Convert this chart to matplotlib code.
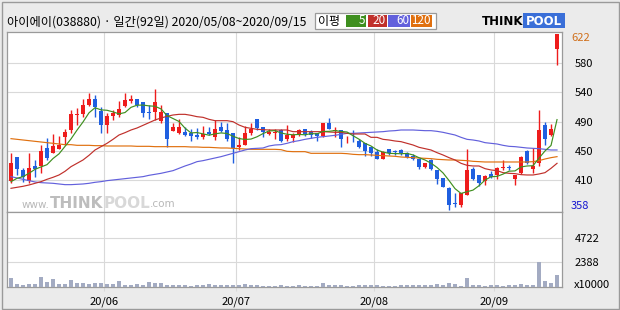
import numpy as np
import pandas as pd
import matplotlib
matplotlib.use('Agg')
import matplotlib.pyplot as plt
from matplotlib.patches import Rectangle

plt.rcParams['font.family'] = ['Noto Sans CJK KR', 'DejaVu Sans']

# chart data
title = '아이에이(038880) · 일간(92일) 2020/05/08~2020/09/15'
dates = pd.bdate_range('2020-05-08', '2020-09-15', freq='C', holidays=['2020-08-17'])

opens = [402, 437, 418, 402, 424, 424, 451, 444, 449, 468, 478, 500, 502, 515, 525, 506,
         486, 499, 501, 514, 522, 524, 520, 505, 505, 492, 504, 477, 474, 475, 474, 471,
         468, 475, 468, 482, 478, 473, 453, 455, 474, 494, 482, 472, 474, 478, 464, 466,
         471, 480, 475, 474, 469, 488, 477, 478, 464, 462, 461, 459, 452, 445, 435, 449,
         446, 448, 443, 439, 434, 423, 433, 418, 406, 391, 368, 366, 381, 420, 410, 401,
         412, 411, 421, 422, 404, 413, 447, 419, 428, 486, 470, 599]
highs = [443, 438, 421, 443, 433, 455, 466, 472, 469, 480, 508, 511, 525, 533, 530, 513,
         503, 508, 522, 534, 530, 525, 520, 515, 539, 515, 504, 489, 494, 483, 480, 481,
         484, 482, 493, 490, 488, 473, 467, 484, 488, 495, 482, 480, 480, 479, 486, 474,
         480, 480, 478, 474, 489, 496, 483, 478, 469, 478, 465, 459, 453, 450, 447, 450,
         448, 450, 445, 442, 435, 429, 434, 418, 406, 393, 383, 384, 450, 423, 410, 410,
         417, 423, 433, 425, 411, 439, 448, 451, 508, 490, 487, 622]
lows = [398, 410, 400, 398, 408, 414, 433, 443, 449, 455, 473, 485, 498, 514, 498, 473,
        473, 493, 498, 513, 518, 513, 498, 495, 493, 488, 452, 477, 472, 469, 461, 465,
        464, 470, 463, 475, 461, 429, 448, 455, 470, 478, 468, 470, 465, 460, 461, 460,
        469, 469, 466, 462, 468, 479, 468, 453, 459, 460, 451, 439, 439, 435, 435, 440,
        441, 441, 436, 433, 420, 421, 418, 397, 392, 358, 363, 363, 380, 403, 394, 396,
        406, 404, 418, 418, 396, 412, 427, 413, 424, 455, 469, 576]
closes = [428, 419, 408, 421, 419, 446, 436, 454, 456, 475, 502, 502, 515, 525, 513, 486,
          499, 503, 510, 523, 525, 515, 504, 504, 520, 505, 465, 482, 482, 470, 469, 468,
          472, 472, 480, 476, 464, 451, 455, 473, 479, 481, 475, 475, 475, 462, 471, 471,
          478, 472, 471, 469, 489, 479, 478, 464, 465, 461, 453, 447, 444, 435, 445, 444,
          445, 443, 437, 434, 423, 428, 419, 405, 393, 366, 367, 383, 418, 405, 399, 409,
          408, 421, 422, 421, 411, 438, 428, 424, 478, 465, 479, 622]
# volume, x10000 shares
volumes = [859, 286, 191, 286, 286, 954, 509, 763, 254, 318, 668, 413, 413, 318, 413, 413,
           254, 286, 572, 223, 223, 286, 223, 477, 350, 413, 223, 223, 191, 191, 127, 223,
           223, 286, 223, 223, 191, 191, 159, 286, 191, 191, 95, 95, 95, 191, 95, 95,
           191, 127, 95, 95, 382, 191, 191, 191, 95, 95, 191, 191, 191, 159, 95, 95,
           95, 191, 191, 191, 191, 191, 191, 286, 191, 382, 254, 95, 859, 191, 191, 95,
           191, 191, 95, 191, 191, 286, 191, 191, 2388, 572, 382, 1145]

# moving averages (they need history before 05/08)
ma5_head = [400.5, 405.5, 408, 413]
ma20 = [390.5, 392, 393.5, 395.5, 398, 400.5, 404, 407, 410.5, 416, 423, 428, 433, 440, 448, 453,
        458, 464, 470.5, 474, 478, 481, 485, 489, 493, 496, 498.5, 500.5, 501.5, 501.5, 500, 498,
        497, 494, 492, 492, 492, 490.5, 485.5, 482, 480.5, 479, 478.5, 478, 478, 478, 478, 475.5,
        475.5, 475.5, 475.5, 475.5, 475.5, 475, 474.5, 474.5, 473, 472, 472, 472, 467, 467, 464, 463,
        461.5, 460.5, 458, 455.5, 452, 450, 448, 444, 440.5, 436.5, 433, 428, 425, 424, 424, 420,
        418, 417, 414, 413, 412.5, 411, 410.5, 410.5, 412, 414, 420.5, 428]
ma60 = [408, 406, 404, 402, 400, 399, 398.5, 398, 397, 396, 396, 396.5, 397, 398, 399.5, 400.5,
        402, 403, 404, 405, 406, 407, 408, 410, 411.5, 413, 415, 417, 420.5, 424, 427, 430.5,
        432, 434, 436, 438, 440.5, 443, 445.5, 448, 450, 450.5, 451, 454, 455.5, 456, 458, 460.5,
        462, 464, 465.5, 467, 468, 469, 470, 471.5, 473, 473, 473.5, 474, 474.5, 475, 475.5, 476.5,
        477, 478, 478, 478, 477.5, 477, 477, 476, 474.5, 472.5, 470.5, 467, 464, 463, 461.5, 459,
        458, 457, 455, 453.5, 453, 452, 451, 450.5, 450, 449, 448, 448]
ma120 = [465, 464, 463, 462, 461, 460, 459, 458, 457, 456, 456, 455, 455, 455, 454.5, 454.5,
         454, 454, 454, 454, 454, 453.5, 453.5, 453.5, 453, 453, 453, 453, 453, 453, 452.5, 452.5,
         452, 452, 451.5, 451, 451, 450.5, 450, 449.5, 449, 449, 449, 449, 449, 448.5, 446, 445.5,
         445.5, 445.5, 443, 443, 443, 443, 443, 443, 442.5, 441.5, 441, 441, 440.5, 440, 439.5, 439,
         438.5, 437.5, 437, 436.5, 436, 435.5, 435, 434, 433.5, 433, 433, 432.5, 432, 431, 430.5, 430,
         430, 430, 430, 430, 430, 430, 430, 430.5, 432, 434.5, 436.5, 438]

price_labels = ['580', '540', '490', '450', '410']
vol_ticks = [4722, 2388]

up_col = '#ee1c1c'
down_col = '#1f5fe0'
ma_cols = {'5': '#3f8f1f', '20': '#c0302b', '60': '#6260dc', '120': '#e0700f'}
grid_col = '#d9d9d9'
frame_col = '#9a9a9a'

n = len(closes)
x = np.arange(n)
ma5 = pd.Series(closes).rolling(5).mean().to_numpy()
ma5[:4] = ma5_head

W, H = 620, 310
fig = plt.figure(figsize=(W / 100, H / 100), dpi=100, facecolor='#ebebeb')


def fx(px):
    return px / W


def fy(py):
    return 1 - py / H


left, right = 7, 562
top, mid, bottom = 31.7, 212.3, 287
ax = fig.add_axes([fx(left), fy(mid), fx(right - left), (mid - top) / H])
axv = fig.add_axes([fx(left), fy(bottom), fx(right - left), (bottom - mid) / H], sharex=ax)

# candles
is_up = np.array(closes) >= np.array(opens)
colors = np.where(is_up, up_col, down_col)
ax.vlines(x, lows, highs, colors=colors, lw=1, zorder=3)
body = np.maximum(np.abs(np.array(closes) - np.array(opens)), 1.2)
ax.bar(x, body, bottom=np.minimum(opens, closes), width=0.72, color=colors, zorder=4)

for vals, key in [(ma120, '120'), (ma60, '60'), (ma20, '20'), (ma5, '5')]:
    ax.plot(x, vals, color=ma_cols[key], lw=0.85, zorder=5)

ax.set_xlim(-0.667, n - 0.17)
ax.set_ylim(354.5, 625.5)
grid_pos = np.linspace(578.1, 402.8, len(price_labels))
ax.set_yticks(grid_pos)
ax.set_yticklabels(price_labels)
ax.yaxis.tick_right()
ax.tick_params(axis='y', length=0, pad=9, labelsize=8)
ax.tick_params(axis='x', length=0, labelbottom=False)
ax.text(1.016, 0.965, str(max(highs)), transform=ax.transAxes, color='#d0701c',
        fontsize=8, va='center', ha='left')
ax.text(1.016, 0.035, str(min(lows)), transform=ax.transAxes, color='#1515d0',
        fontsize=8, va='center', ha='left')

# watermark
t1 = ax.text(0.027, 0.015, 'www.', transform=ax.transAxes, fontsize=7.5,
             color='#b8b8b8', va='bottom', family='DejaVu Sans', zorder=1)
t2 = ax.annotate('THINK', xy=(1, -0.1), xycoords=t1, fontsize=11, color='#bdbdbd',
                 weight='bold', va='bottom', family='DejaVu Sans', zorder=1)
t3 = ax.annotate('POOL', xy=(1, 0), xycoords=t2, fontsize=11, color='#d8d8d8',
                 weight='bold', va='bottom', family='DejaVu Sans', zorder=1)
ax.annotate('.com', xy=(1, 0.1), xycoords=t3, fontsize=7.5, color='#b8b8b8',
            va='bottom', family='DejaVu Sans', zorder=1)

# volume
axv.bar(x, volumes, width=0.8, color='#a3abc2', zorder=3)
axv.set_ylim(0, 7200)
axv.set_yticks(vol_ticks)
axv.yaxis.tick_right()
axv.tick_params(axis='y', length=0, pad=9, labelsize=8)
month_start = np.flatnonzero(dates.month[1:] != dates.month[:-1]) + 1
axv.set_xticks(month_start - 0.5)
axv.set_xticklabels([d.strftime('%y/%m') for d in dates[month_start]])
axv.tick_params(axis='x', length=3, width=0.8, color=grid_col, pad=3.5, labelsize=8)
fig.text(fx(610), fy(285), 'x10000', fontsize=8, ha='right', va='center')

for a in (ax, axv):
    a.set_facecolor('white')
    a.grid(True, color=grid_col, lw=0.8, zorder=0)
    a.set_axisbelow(True)
    for s in a.spines.values():
        s.set_color(frame_col)
        s.set_linewidth(0.9)

# header
fig.text(fx(7), fy(22.5), title, fontsize=8.8, va='center', ha='left')
fig.add_artist(Rectangle((fx(315), fy(29.3)), fx(121), 16.6 / H, transform=fig.transFigure,
                         facecolor='white', edgecolor=frame_col, lw=0.9))
fig.text(fx(318), fy(21), '이평', fontsize=8.6, va='center', ha='left')
for (k, c), (x0, x1) in zip(ma_cols.items(), [(346, 366), (367.5, 387), (388, 410), (411, 432)]):
    fig.add_artist(Rectangle((fx(x0), fy(26.7)), fx(x1 - x0), 11.4 / H,
                             transform=fig.transFigure, facecolor=c, edgecolor='none'))
    fig.text(fx(x1 - 1), fy(21), k, fontsize=8.4, color='white', va='center', ha='right')

# logo
fig.add_artist(Rectangle((fx(523), fy(28)), fx(42), 15 / H, transform=fig.transFigure,
                         facecolor='#3a6fd8', edgecolor='none'))
fig.text(fx(482), fy(21.5), 'THINK', fontsize=8.5, weight='bold', va='center', ha='left',
         family='DejaVu Sans')
fig.text(fx(544), fy(21.5), 'POOL', fontsize=8.5, weight='bold', color='white',
         va='center', ha='center', family='DejaVu Sans')

# outer frame
fig.add_artist(Rectangle((fx(1.5), fy(308.5)), fx(617), 307 / H, transform=fig.transFigure,
                         fill=False, edgecolor=frame_col, lw=1))

fig.savefig('out.png', dpi=100, facecolor=fig.get_facecolor())
